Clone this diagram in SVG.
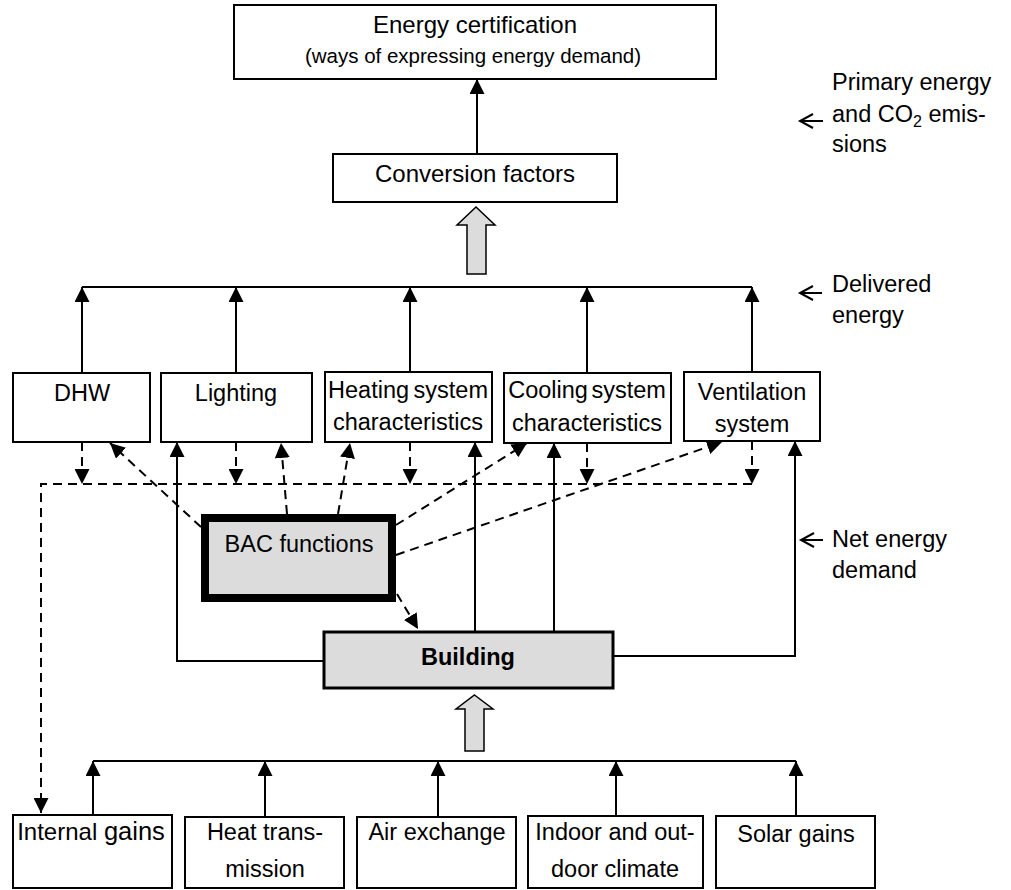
<svg xmlns="http://www.w3.org/2000/svg" width="1011" height="890" viewBox="0 0 1011 890">
<style>
text{font-family:"Liberation Sans",Arial,sans-serif;font-size:23.5px;fill:#000;text-anchor:middle}
.box{fill:#fff;stroke:#000;stroke-width:2}
.gray{fill:#dcdcdc;stroke:#000}
.c{fill:none;stroke:#000;stroke-width:2}
.d{fill:none;stroke:#000;stroke-width:2;stroke-dasharray:9 6}
.lbl{text-anchor:start}
</style>
<defs>
<marker id="ah" viewBox="0 0 15 15" refX="15" refY="7.5" markerWidth="15" markerHeight="15" markerUnits="userSpaceOnUse" orient="auto"><path d="M0,0L15,7.5L0,15z" fill="#000"/></marker>
</defs>
<g id="energy-certification"><rect class="box" x="234" y="5" width="482" height="74"/><text x="475" y="33" style="font-size:24px">Energy certification</text><text x="473" y="63" style="font-size:20.5px">(ways of expressing energy demand)</text></g>
<g id="conversion-factors"><rect class="box" x="333" y="154" width="284" height="48"/><text x="475" y="182" style="font-size:24px">Conversion factors</text></g>
<g id="dhw"><rect class="box" x="13" y="373" width="137" height="69"/><text x="82" y="401">DHW</text></g>
<g id="lighting"><rect class="box" x="161" y="373" width="151" height="69"/><text x="236" y="401">Lighting</text></g>
<g id="heating"><rect class="box" x="325" y="372" width="167" height="70"/><text x="408" y="398" word-spacing="-2">Heating system</text><text x="408" y="430">characteristics</text></g>
<g id="cooling"><rect class="box" x="504" y="373" width="167" height="70"/><text x="587" y="398" word-spacing="-3">Cooling system</text><text x="587" y="431">characteristics</text></g>
<g id="ventilation"><rect class="box" x="684" y="372" width="136" height="69"/><text x="752" y="400">Ventilation</text><text x="752" y="432">system</text></g>
<g id="bac-functions"><rect class="gray" x="205" y="518" width="187" height="80" stroke-width="8"/><text x="299" y="552">BAC functions</text></g>
<g id="building"><rect class="gray" x="324" y="632" width="289" height="56" stroke-width="3"/><text x="468" y="665" font-weight="bold">Building</text></g>
<g id="internal-gains"><rect class="box" x="13" y="815" width="159" height="73"/><text x="91" y="840"><tspan style="font-size:24px">Internal </tspan><tspan style="font-size:25.5px">gains</tspan></text></g>
<g id="heat-transmission"><rect class="box" x="185" y="817" width="159" height="71"/><text x="265" y="840">Heat trans-</text><text x="265" y="877">mission</text></g>
<g id="air-exchange"><rect class="box" x="357" y="817" width="159" height="71"/><text x="437" y="840">Air exchange</text></g>
<g id="indoor-outdoor-climate"><rect class="box" x="528" y="816" width="175" height="72"/><text x="615" y="840">Indoor and out-</text><text x="615" y="877">door climate</text></g>
<g id="solar-gains"><rect class="box" x="716" y="816" width="159" height="72"/><text x="796" y="842">Solar gains</text></g>
<g id="block-arrows">
<polygon class="gray" stroke-width="1.5" points="476,207 495,225 486,225 486,274 467,274 467,225 457,225"/>
<polygon class="gray" stroke-width="1.5" points="474.5,695 493,709 484,709 484,751 465,751 465,709 456,709"/>
</g>
<g id="connectors">
<path class="c" d="M477,154V79" marker-end="url(#ah)"/>
<path class="c" d="M82,287H752"/>
<path class="c" d="M82,373V287" marker-end="url(#ah)"/>
<path class="c" d="M236,373V287" marker-end="url(#ah)"/>
<path class="c" d="M410,372V287" marker-end="url(#ah)"/>
<path class="c" d="M587,373V287" marker-end="url(#ah)"/>
<path class="c" d="M752,372V287" marker-end="url(#ah)"/>
<path class="c" d="M324,661H177V442" marker-end="url(#ah)"/>
<path class="c" d="M475,632V442" marker-end="url(#ah)"/>
<path class="c" d="M554,632V443" marker-end="url(#ah)"/>
<path class="c" d="M613,656H795V441" marker-end="url(#ah)"/>
<path class="c" d="M93,761H796"/>
<path class="c" d="M93,815V761" marker-end="url(#ah)"/>
<path class="c" d="M265,817V761" marker-end="url(#ah)"/>
<path class="c" d="M438,817V761" marker-end="url(#ah)"/>
<path class="c" d="M616,816V761" marker-end="url(#ah)"/>
<path class="c" d="M796,816V761" marker-end="url(#ah)"/>
<path class="d" d="M752,484H41V813" marker-end="url(#ah)"/>
<path class="d" d="M82,442V484" marker-end="url(#ah)"/>
<path class="d" d="M236,442V484" marker-end="url(#ah)"/>
<path class="d" d="M410,442V484" marker-end="url(#ah)"/>
<path class="d" d="M587,443V484" marker-end="url(#ah)"/>
<path class="d" d="M752,441V484" marker-end="url(#ah)"/>
<path class="d" d="M201,527L110,443" marker-end="url(#ah)"/>
<path class="d" d="M287,514L281,443" marker-end="url(#ah)"/>
<path class="d" d="M338,514L350,443" marker-end="url(#ah)"/>
<path class="d" d="M396,525L527,443" marker-end="url(#ah)"/>
<path class="d" d="M396,555L722,442" marker-end="url(#ah)"/>
<path class="d" d="M397,594L418,629" marker-end="url(#ah)"/>
</g>
<g id="level-labels">
<path class="c" d="M823,121H800M813,114L800,121L813,128"/>
<text class="lbl" x="832" y="90">Primary energy</text>
<text class="lbl" x="832" y="122">and CO<tspan style="font-size:16px" dy="5">2</tspan><tspan dy="-5"> emis-</tspan></text>
<text class="lbl" x="832" y="152">sions</text>
<path class="c" d="M822,293H800M813,286L800,293L813,300"/>
<text class="lbl" x="832" y="292">Delivered</text>
<text class="lbl" x="832" y="323">energy</text>
<path class="c" d="M823,540H801M814,533L801,540L814,547"/>
<text class="lbl" x="832" y="547">Net energy</text>
<text class="lbl" x="832" y="578">demand</text>
</g>
</svg>
